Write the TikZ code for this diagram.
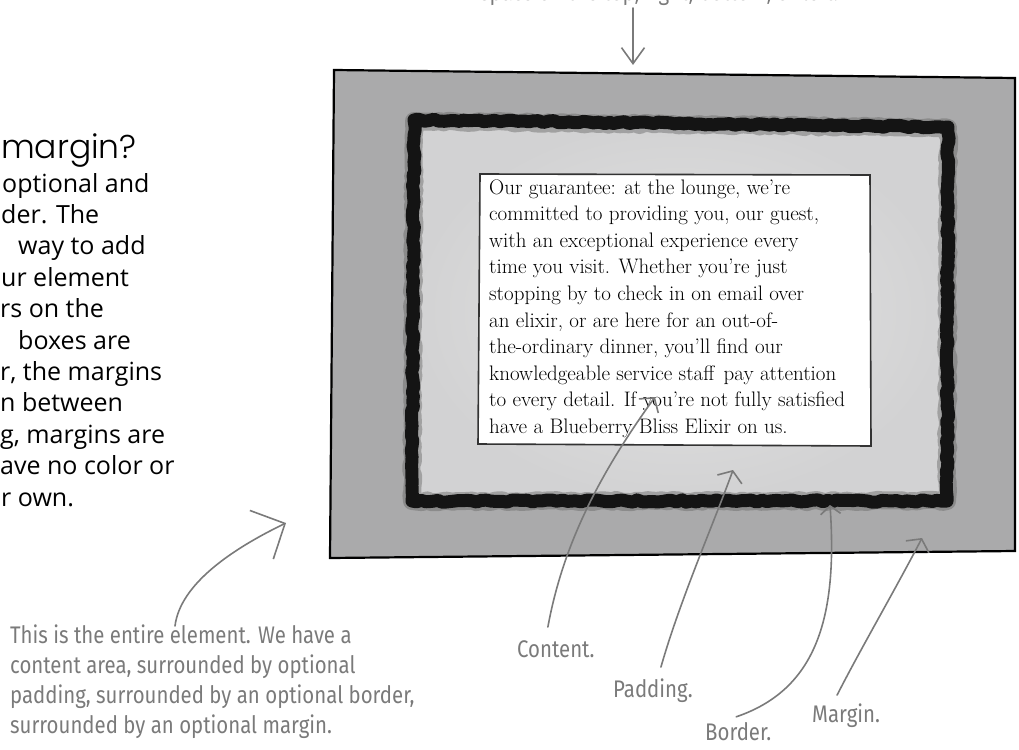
\documentclass[tikz,border=0pt]{standalone}
\usepackage{fontspec}
\usepackage{tikz}
\usetikzlibrary{arrows.meta, decorations.pathmorphing}

\IfFontExistsTF{Poppins Light}{\newfontfamily\headfont{Poppins Light}}{\newfontfamily\headfont{Poppins}}
\newfontfamily\sidefont{Open Sans}
\newfontfamily\handfont{Fira Sans}[FakeStretch=0.85]

\definecolor{pen}{HTML}{7A7A7A}
\definecolor{marginfill}{HTML}{AAAAAB}
\definecolor{padfill}{HTML}{D2D2D3}
\definecolor{padlight}{HTML}{E4E4E4}

\begin{document}
\begin{tikzpicture}[x=1pt, y=-1pt,
  penline/.style={draw=pen, line width=1.6pt, line cap=round},
  hand/.style={text=pen, font=\handfont\fontsize{24}{29}\selectfont, inner sep=0pt, anchor=base west},
  sideline/.style={font=\sidefont\fontsize{25}{31}\selectfont, inner sep=0pt, anchor=base west},
  copyline/.style={font=\fontsize{21}{26.6}\selectfont, inner sep=0pt, anchor=base west},
  roughline/.style={decorate, decoration={random steps, segment length=5pt, amplitude=1.2pt},
                    line join=round, line cap=round}]
  \useasboundingbox (0,0) rectangle (1019,749);
  \clip (0,0) rectangle (1019,749);

  % Side text, cut off by the page
  \node[font=\headfont\fontsize{33}{40}\selectfont, inner sep=0pt, anchor=base west] (head) at (1,158) {margin?};
  \foreach \txt/\xx [count=\i from 0] in {{optional and}/2, {der. The}/1, {way to add}/18,
      {ur element}/1, {rs on the}/0, {boxes are}/18, {r, the margins}/0, {n between}/0,
      {g, margins are}/0, {ave no color or}/0, {r own.}/1}
    \node[sideline] (side\i) at (\xx, 192+31.4*\i) {\txt};

  % Note at the top, cut off
  \node[hand] (topnote) at (480,1) {space on the top, right, bottom, or left.};

  % Margin
  \draw[line width=2.2pt, fill=marginfill] (334,70) -- (1015,78) -- (1015,551) -- (330,558) -- cycle;
  % Padding
  \shade[inner color=padlight, outer color=padfill] (414,120) -- (948,127) -- (947,501) -- (412,501) -- cycle;
  % Content
  \draw[line width=1.6pt, draw=black!80, fill=white] (480,174) -- (870,175) -- (871,446) -- (478,444) -- cycle;
  \foreach \txt [count=\i from 0] in {{Our guarantee: at the lounge, we’re},
      {committed to providing you, our guest,}, {with an exceptional experience every},
      {time you visit. Whether you’re just}, {stopping by to check in on email over},
      {an elixir, or are here for an out-of-}, {the-ordinary dinner, you’ll find our},
      {knowledgeable service staff\hspace{3pt} pay attention}, {to every detail. If you’re not fully satisfied},
      {have a Blueberry Bliss Elixir on us.}}
    \node[copyline] (copy\i) at (489, 194+26.6*\i) {\txt};
  % Border
  \draw[roughline, line width=18pt, black!60, opacity=0.45]
    (414,121) -- (948,128) -- (947,501) -- (412,501) -- cycle;
  \draw[roughline, line width=13pt, black!92]
    (414,120) -- (948,127) -- (947,501) -- (412,501) -- cycle;

  % Top arrow
  \coordinate (topfrom) at (633,8);
  \coordinate (toptip) at (633,65);
  \draw[penline, -{Straight Barb[length=16pt, width=23pt]}] (topfrom) -- (toptip);

  % Whole element
  \foreach \txt [count=\i from 0] in {{This is the entire element. We have a},
      {content area, surrounded by optional}, {padding, surrounded by an optional border,},
      {surrounded by an optional margin.}}
    \node[hand] (note\i) at (10, 643+30*\i) {\txt};
  \coordinate (elemtip) at (286,523);
  \draw[penline, -{Straight Barb[length=26pt, width=54pt]}]
    ([xshift=165pt, yshift=17pt]note0.base west) .. controls (180,585) and (230,550) .. (elemtip);

  % Box labels
  \node[hand] (lblContent) at (517,657) {Content.};
  \node[hand] (lblPadding) at (613,697) {Padding.};
  \node[hand] (lblBorder) at (705,740) {Border.};
  \node[hand] (lblMargin) at (812,722) {Margin.};

  \coordinate (tipContent) at (655,397);
  \coordinate (tipPadding) at (733,470);
  \coordinate (tipBorder) at (830,505);
  \coordinate (tipMargin) at (922,538);

  \draw[penline, -{Straight Barb[length=10pt, width=24pt]}]
    ([xshift=-8pt, yshift=13pt]lblContent.north) .. controls (562,550) and (595,480) .. (tipContent);
  \draw[penline, -{Straight Barb[length=9pt, width=26pt]}]
    ([xshift=8pt, yshift=11pt]lblPadding.north) .. controls (680,600) and (715,520) .. (tipPadding);
  \draw[penline, -{Straight Barb[length=8pt, width=20pt]}]
    ([xshift=-2pt, yshift=5pt]lblBorder.north) .. controls (815,690) and (838,620) .. (tipBorder);
  \draw[penline, -{Straight Barb[length=9pt, width=26pt]}]
    ([xshift=-9pt, yshift=8pt]lblMargin.north) .. controls (860,650) and (895,590) .. (tipMargin);
\end{tikzpicture}
\end{document}
